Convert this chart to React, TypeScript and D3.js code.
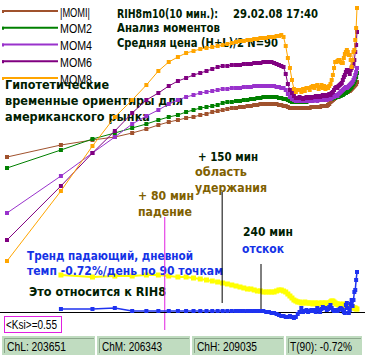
import React from "react";
import * as d3 from "d3";

const W = 365;
const H = 357;

const seriesNames = ["|MOMI|", "MOM2", "MOM4", "MOM6", "MOM8"];
const seriesColors = ["#A0522D", "#008000", "#9932CC", "#800080", "#FFA500"];

// values per 10-min bar, bars 1..90
const momI = [155,167,172,175,179,183,187,190,192,194,
195,197,198,200,201,202,203,204,204,205,
205,206,206,207,207,208,208,208,208,208,
208,208,207,207,206,206,205,204,204,204,
204,204,204,204,204,204,204,204,204,205,
205,205,205,205,205,205,206,206,206,206,
206,207,208,210,211,212,213,214,215,216,
216,217,217,218,218,219,219,219,220,220,
221,221,222,223,224,225,226,227,228,230];

const mom2 = [144,162,173,179,184,188,192,195,197,200,
202,204,205,206,207,209,210,210,211,211,
212,212,213,213,214,214,215,215,215,215,
215,215,214,214,213,213,212,211,210,210,
210,210,210,210,210,211,210,211,211,211,
212,212,212,213,212,213,213,213,213,212,
213,213,213,213,213,214,214,214,215,215,
215,216,216,217,217,218,219,219,220,221,
222,223,224,225,227,228,230,232,235,239];

const mom4 = [99,136,159,175,188,196,202,208,212,215,
217,219,220,221,222,223,223,224,224,224,
225,225,225,226,226,226,226,226,226,226,
226,225,225,224,224,222,218,215,213,212,
211,211,212,211,211,212,211,212,211,212,
211,212,212,211,212,212,213,212,213,213,
212,213,214,213,214,215,215,216,217,216,
218,219,220,221,222,223,224,225,224,225,
226,227,228,229,230,232,234,237,240,244];

const mom6 = [72,126,159,181,199,212,219,226,231,234,
237,239,241,243,245,246,246,247,247,247,
248,248,248,249,249,249,250,250,250,250,
249,248,247,246,245,238,228,222,219,216,
214,214,215,214,213,214,215,214,215,214,
215,215,216,215,216,215,216,217,216,217,
216,217,218,217,219,220,222,224,225,224,
226,227,228,229,232,235,237,240,242,242,
240,238,242,244,246,248,252,260,267,280];

const mom8 = [51,121,166,195,212,227,241,250,255,259,
261,263,264,265,266,267,268,269,270,271,
271,272,272,273,273,274,274,274,275,275,
275,276,276,277,275,266,254,244,232,223,
220,222,222,220,223,221,224,224,222,225,
226,224,226,227,223,225,227,224,226,223,
225,224,226,228,232,237,244,250,250,251,
252,252,250,249,249,254,258,260,262,260,
257,257,252,245,252,260,262,272,284,304];

// bars 2..90
const trendYellow = [37,35,36,36,37,37,36,35,35,
34,33,32,31,30,29,28,27,26,25,
24,23,23,22,21,21,20,20,20,20,
20,21,22,22,21,20,18,16,14,12,
11,10,10,9,9,10,9,9,9,9,
8,9,9,8,9,8,9,9,8,9,
9,8,9,10,11,11,10,9,8,8,
7,8,7,7,7,8,7,6,6,6,
6,5,5,5,5,4,4,4,3,3];

const ksiBlue = [3,3,4,1,1,1,1,1,1,
1,1,1,1,1,1,1,1,1,1,
1,1,1,1,1,1,1,0,0,-1,
-1,-2,-3,-4,-4,-5,-5,-4,-5,-6,
-5,-2,0,4,0,1,2,0,1,2,
1,2,0,4,2,0,3,5,4,4,
2,3,5,7,4,2,1,2,2,1,
2,3,4,3,2,0,-1,7,9,4,
-1,2,8,12,6,12,20,22,32,40];

const markerBars = [7.6, 15.9, 26.2];
const statusLabels = ["ChL: 203651", "ChM: 206343", "ChH: 209035", "T(90): -0.72%"];

const FONT = "'DejaVu Sans', sans-serif";
const SANS = "'Liberation Sans', Arial, sans-serif";
const DARK = "#002000";
const OLIVE = "#806000";
const BLUE = "#1432E6";

const x = d3.scaleLog().domain([1, 90]).range([7, 357]);
const y = d3.scaleLinear().domain([0, 300]).range([312, 12]);

function Series({ values, start, color, width, mw, mh }: any) {
  const line = d3
    .line<number>()
    .x((_, i) => x(i + start))
    .y((d) => y(d));
  return (
    <g>
      <path d={line(values) || ""} fill="none" stroke={color} strokeWidth={width} />
      {values.map((d: number, i: number) => (
        <rect
          key={i}
          x={x(i + start) - mw / 2}
          y={y(d) - mh / 2}
          width={mw}
          height={mh}
          fill={color}
        />
      ))}
    </g>
  );
}

function T({ x: tx, y: ty, w, children, size = 13, weight = "bold", fill = DARK, family = FONT }: any) {
  return (
    <text
      x={tx}
      y={ty}
      fontSize={size}
      fontWeight={weight}
      fill={fill}
      fontFamily={family}
      textLength={w}
      lengthAdjust="spacingAndGlyphs"
    >
      {children}
    </text>
  );
}

export default function App() {
  const moms = [momI, mom2, mom4, mom6, mom8];
  const panelX = [2, 97, 192, 286];
  const panelW = [93, 93, 92, 76];
  const textX = [7, 102, 197, 290];
  const textW = [59, 60, 60, 62];
  return (
    <svg
      width={W}
      height={H}
      style={{ position: "absolute", left: 0, top: 0, display: "block" }}
    >
      <rect width={W} height={H} fill="#fff" />

      {/* legend */}
      {seriesNames.map((n, i) => {
        const ly = 11 + i * 16.75;
        return (
          <g key={n}>
            <line x1={2} x2={58} y1={ly} y2={ly} stroke={seriesColors[i]} strokeWidth={2} />
            <rect x={2} y={ly - 1} width={2} height={3} fill={seriesColors[i]} />
            <T x={60} y={ly + 5.5} w={n === "|MOMI|" ? 30 : 32} size={12} weight="normal" fill="#000" family={SANS}>
              {n}
            </T>
          </g>
        );
      })}

      {/* titles */}
      <text fontSize={12} fontWeight="bold" fill={DARK} fontFamily={FONT} y={18}>
        <tspan x={117} textLength={101} lengthAdjust="spacingAndGlyphs">RIH8m10(10 мин.):</tspan>
        <tspan x={233} textLength={85} lengthAdjust="spacingAndGlyphs">29.02.08 17:40</tspan>
      </text>
      <T x={117} y={32} w={103} size={12}>Анализ моментов</T>
      <T x={117} y={47} w={161} size={12}>Средняя цена (H+L)/2 N=90</T>

      <T x={5} y={89} w={104} size={13}>Гипотетические</T>
      <T x={5} y={105} w={178} size={13}>временные ориентиры для</T>
      <T x={5} y={121} w={145} size={13}>американского рынка</T>

      {/* moment series */}
      {moms.map((vals, i) => (
        <Series key={i} values={vals} start={1} color={seriesColors[i]} width={1} mw={4} mh={4} />
      ))}

      {/* trend series */}
      <Series values={trendYellow} start={2} color="#FFFF00" width={2} mw={5} mh={5} />

      {/* annotations */}
      <T x={138} y={200} w={56} size={13} fill={OLIVE}>+ 80 мин</T>
      <T x={138} y={216} w={54} size={13} fill={OLIVE}>падение</T>
      <T x={198} y={161} w={60} size={13} fill={DARK}>+ 150 мин</T>
      <T x={195} y={176} w={52} size={13} fill={OLIVE}>область</T>
      <T x={195} y={192} w={72} size={13} fill={OLIVE}>удержания</T>
      <T x={243} y={236} w={50} size={13} fill={DARK}>240 мин</T>
      <T x={242} y={253} w={42} size={13} fill={BLUE}>отскок</T>
      <T x={27} y={260} w={166} size={13} fill={BLUE}>Тренд падающий, дневной</T>
      <T x={27} y={275} w={196} size={13} fill={BLUE}>темп -0.72%/день по 90 точкам</T>
      <T x={29} y={296} w={137} size={13} fill={DARK}>Это относится к RIH8</T>

      <line x1={x(markerBars[0])} x2={x(markerBars[0])} y1={217} y2={330} stroke="#E020E0" strokeWidth={1} />
      <line x1={x(markerBars[1])} x2={x(markerBars[1])} y1={192} y2={303} stroke="#000" strokeWidth={1} />
      <line x1={x(markerBars[2])} x2={x(markerBars[2])} y1={264} y2={312} stroke="#000" strokeWidth={1} />

      {/* axis */}
      <line x1={0} x2={W} y1={y(0) + 0.5} y2={y(0) + 0.5} stroke="#000" strokeWidth={1} />

      <Series values={ksiBlue} start={2} color="#1E32F0" width={1.5} mw={4} mh={4} />

      {/* Ksi box */}
      <rect x={4.5} y={316.5} width={57} height={16} fill="#fff" stroke="#E020E0" strokeWidth={1} />
      <T x={6} y={329} w={51} size={12} weight="normal" fill="#000" family={SANS}>{"<Ksi>=0.55"}</T>

      {/* status bar */}
      {statusLabels.map((s, i) => (
        <g key={s}>
          <rect x={panelX[i]} y={336} width={panelW[i]} height={19} fill="#C0DCC0" />
          <path
            d={`M${panelX[i] + 2.5},${353} V${338.5} H${panelX[i] + panelW[i] - 1}`}
            fill="none"
            stroke="#8CA88C"
            strokeWidth={1}
          />
          <T x={textX[i]} y={351} w={textW[i]} size={12} weight="normal" fill="#000" family={SANS}>
            {s}
          </T>
        </g>
      ))}
    </svg>
  );
}
